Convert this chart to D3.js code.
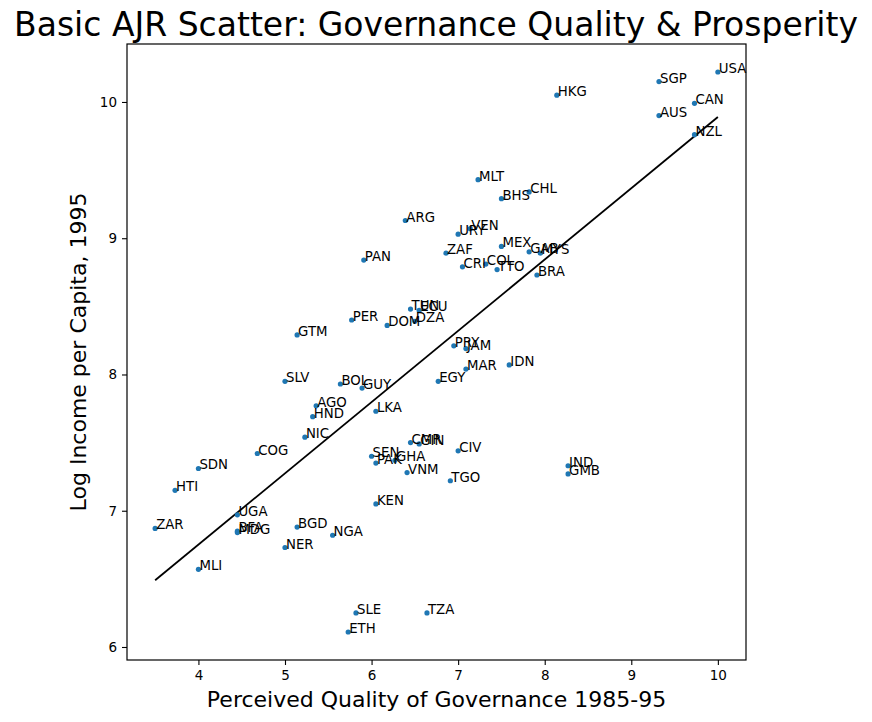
<!DOCTYPE html>
<html>
<head>
<meta charset="utf-8">
<script src="https://cdn.jsdelivr.net/npm/d3@7"></script>
<style>
  body { margin: 0; background: #fff; }
  svg text { font-family: "DejaVu Sans", sans-serif; fill: #000; }
</style>
</head>
<body>
<svg width="872" height="722"></svg>
<script>
// AJR base sample: country codes, governance (avexpr), log GDP per capita 1995
var codes = ["AGO","ARG","AUS","BFA","BGD","BHS","BOL","BRA","CAN","CHL","CIV","CMR","COG","COL","CRI","DOM",
  "DZA","ECU","EGY","ETH","GAB","GHA","GIN","GMB","GTM","GUY","HKG","HND","HTI","IDN","IND","JAM",
  "KEN","LKA","MAR","MDG","MEX","MLI","MLT","MYS","NER","NGA","NIC","NZL","PAK","PAN","PER","PRY",
  "SDN","SEN","SGP","SLE","SLV","TGO","TTO","TUN","TZA","UGA","URY","USA","VEN","VNM","ZAF","ZAR"];
var avexpr = [5.36,6.39,9.32,4.45,5.14,7.50,5.64,7.91,9.73,7.82,7.00,6.45,4.68,7.32,7.05,6.18,
  6.50,6.55,6.77,5.73,7.82,6.27,6.55,8.27,5.14,5.89,8.14,5.32,3.73,7.59,8.27,7.09,
  6.05,6.05,7.09,4.45,7.50,4.00,7.23,7.95,5.00,5.55,5.23,9.73,6.05,5.91,5.77,6.95,
  4.00,6.00,9.32,5.82,5.00,6.91,7.45,6.45,6.64,4.45,7.00,10.00,7.14,6.41,6.86,3.50];
var logpgp95 = [7.77,9.13,9.90,6.85,6.88,9.29,7.93,8.73,9.99,9.34,7.44,7.50,7.42,8.81,8.79,8.36,
  8.39,8.47,7.95,6.11,8.90,7.37,7.49,7.27,8.29,7.90,10.05,7.69,7.15,8.07,7.33,8.19,
  7.05,7.73,8.04,6.84,8.94,6.57,9.43,8.89,6.73,6.82,7.54,9.76,7.35,8.84,8.40,8.21,
  7.31,7.40,10.15,6.25,7.95,7.22,8.77,8.48,6.25,6.97,9.03,10.22,9.07,7.28,8.89,6.87];

// fitted OLS line endpoints
var fitX = [3.5, 10];
var fitY = [6.49, 9.89];

var xTicks = [4, 5, 6, 7, 8, 9, 10];
var yTicks = [6, 7, 8, 9, 10];

var svg = d3.select("svg"),
  margin = {top: 44, right: 126, bottom: 62, left: 127},
  width = +svg.attr("width") - margin.left - margin.right,
  height = +svg.attr("height") - margin.top - margin.bottom;

var data = codes.map(function(c, i) { return {code: c, x: avexpr[i], y: logpgp95[i]}; });

// matplotlib-style 5% padding
var xExt = d3.extent(avexpr), yExt = d3.extent(logpgp95);
var xPad = (xExt[1] - xExt[0]) * 0.05, yPad = (yExt[1] - yExt[0]) * 0.05;

var x = d3.scaleLinear().domain([xExt[0] - xPad, xExt[1] + xPad]).range([0, width]);
var y = d3.scaleLinear().domain([yExt[0] - yPad, yExt[1] + yPad]).range([height, 0]);

svg.append("text")
  .attr("x", 436).attr("y", 36)
  .attr("text-anchor", "middle")
  .attr("font-size", 33)
  .text("Basic AJR Scatter: Governance Quality & Prosperity");

var g = svg.append("g").attr("transform", "translate(" + margin.left + "," + margin.top + ")");

function styleAxis(a) {
  a.selectAll("text").attr("font-size", 13.5).attr("font-family", "DejaVu Sans");
  a.selectAll("line").attr("stroke-width", 1.1);
  a.select(".domain").remove();
}

g.append("g")
  .attr("transform", "translate(0," + height + ")")
  .call(d3.axisBottom(x).tickValues(xTicks).tickFormat(d3.format("d")).tickSize(5).tickPadding(5))
  .call(styleAxis);

g.append("g")
  .call(d3.axisLeft(y).tickValues(yTicks).tickFormat(d3.format("d")).tickSize(5).tickPadding(5))
  .call(styleAxis);

g.append("rect")
  .attr("width", width).attr("height", height)
  .attr("fill", "none").attr("stroke", "#000").attr("stroke-width", 1.2);

g.append("line")
  .attr("x1", x(fitX[0])).attr("y1", y(fitY[0]))
  .attr("x2", x(fitX[1])).attr("y2", y(fitY[1]))
  .attr("stroke", "#000").attr("stroke-width", 1.8);

g.selectAll("circle")
  .data(data)
  .enter().append("circle")
    .attr("cx", function(d) { return x(d.x); })
    .attr("cy", function(d) { return y(d.y); })
    .attr("r", 2.6)
    .attr("fill", "#1f77b4");

g.selectAll("text.lbl")
  .data(data)
  .enter().append("text")
    .attr("class", "lbl")
    .attr("x", function(d) { return x(d.x) + 1; })
    .attr("y", function(d) { return y(d.y) + 1; })
    .attr("font-size", 13.3)
    .text(function(d) { return d.code; });

svg.append("text")
  .attr("x", margin.left + width / 2).attr("y", 707)
  .attr("text-anchor", "middle")
  .attr("font-size", 22)
  .text("Perceived Quality of Governance 1985-95");

svg.append("text")
  .attr("transform", "translate(86," + (margin.top + height / 2) + ") rotate(-90)")
  .attr("text-anchor", "middle")
  .attr("font-size", 22)
  .text("Log Income per Capita, 1995");
</script>
</body>
</html>
